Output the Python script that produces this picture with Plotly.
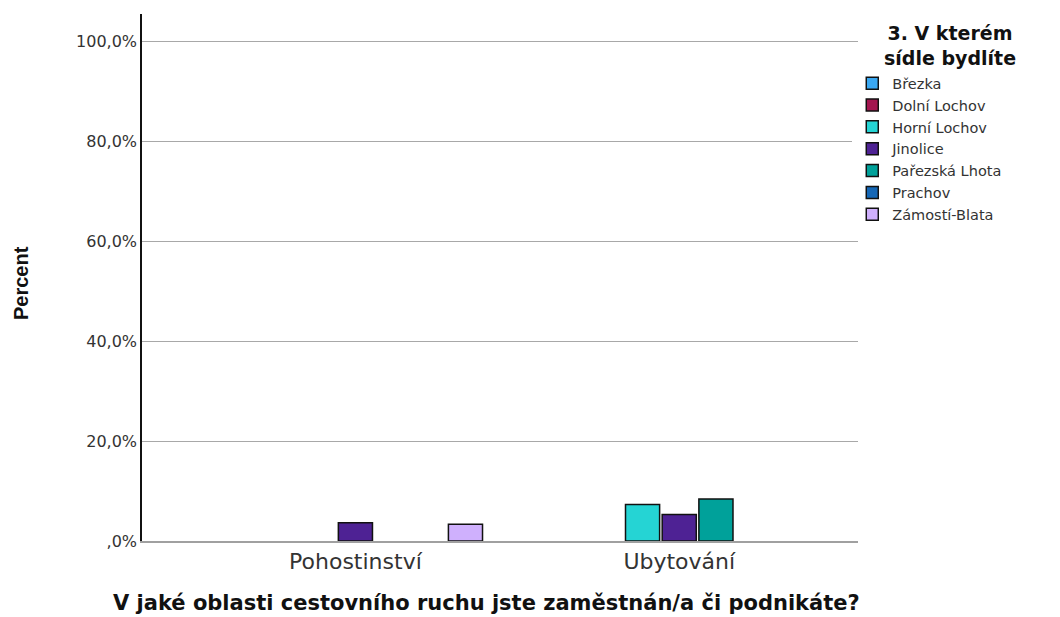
import plotly.graph_objects as go

categories = ["Pohostinství", "Ubytování"]
series_names = ["Březka", "Dolní Lochov", "Horní Lochov", "Jinolice",
                "Pařezská Lhota", "Prachov", "Zámostí-Blata"]
values = {
    "Březka": [None, None],
    "Dolní Lochov": [None, None],
    "Horní Lochov": [None, 7.3],
    "Jinolice": [3.65, 5.3],
    "Pařezská Lhota": [None, 8.4],
    "Prachov": [None, None],
    "Zámostí-Blata": [3.35, None],
}
colors = ["#3AA8F2", "#A3154F", "#25D4D4", "#4E2294", "#00A19A", "#1567B6", "#CFB0FD"]
y_ticks = [0, 20, 40, 60, 80, 100]
y_tick_labels = [",0%", "20,0%", "40,0%", "60,0%", "80,0%", "100,0%"]

fig = go.Figure()
for name, col in zip(series_names, colors):
    fig.add_trace(go.Bar(
        x=categories, y=values[name], name=name,
        marker=dict(color=col, line=dict(color="#111111", width=1.5)),
    ))

# page body has an 8px margin, so the figure is drawn 8px smaller with shifted margins
fig.update_layout(
    width=1052, height=609,
    paper_bgcolor="white", plot_bgcolor="white",
    barmode="group", bargap=0.207, bargroupgap=0.07,
    margin=dict(l=134, r=202, t=6, b=76),
    font=dict(family="DejaVu Sans", color="#222222"),
    showlegend=True,
    legend=dict(
        x=0.992, y=0.899, xanchor="left", yanchor="top",
        font=dict(size=14.5, color="#333333", family="DejaVu Sans"),
        tracegroupgap=0,
    ),
    annotations=[
        dict(text="<b>3. V kterém<br>sídle bydlíte</b>", xref="paper", yref="paper",
             x=1.128, y=0.989, xanchor="center", yanchor="top", showarrow=False,
             align="center", font=dict(size=19, color="#111111", family="DejaVu Sans")),
        dict(text="<b>V jaké oblasti cestovního ruchu jste zaměstnán/a či podnikáte?</b>",
             xref="paper", yref="paper", x=0.481, y=-0.118, xanchor="center", yanchor="middle",
             showarrow=False, font=dict(size=21, color="#111111", family="DejaVu Sans")),
        dict(text="<b>Percent</b>", xref="paper", yref="paper", x=-0.17, y=0.49,
             xanchor="center", yanchor="middle", textangle=-90, showarrow=False,
             font=dict(size=20, color="#111111", family="Liberation Sans")),
    ],
)
fig.update_xaxes(
    type="category", range=[-0.659, 1.552],
    showline=True, linecolor="#A0A0A0", linewidth=1.5,
    showgrid=False, ticks="",
    tickfont=dict(size=22, color="#333333", family="DejaVu Sans"),
)
fig.update_yaxes(
    range=[0, 105.4], tickvals=y_ticks, ticktext=y_tick_labels,
    showline=True, linecolor="#111111", linewidth=1.5,
    showgrid=True, gridcolor="#A8A8A8", gridwidth=1,
    zeroline=False, ticks="",
    tickfont=dict(size=16, color="#333333", family="DejaVu Sans"),
)

fig.write_html("out.html")
